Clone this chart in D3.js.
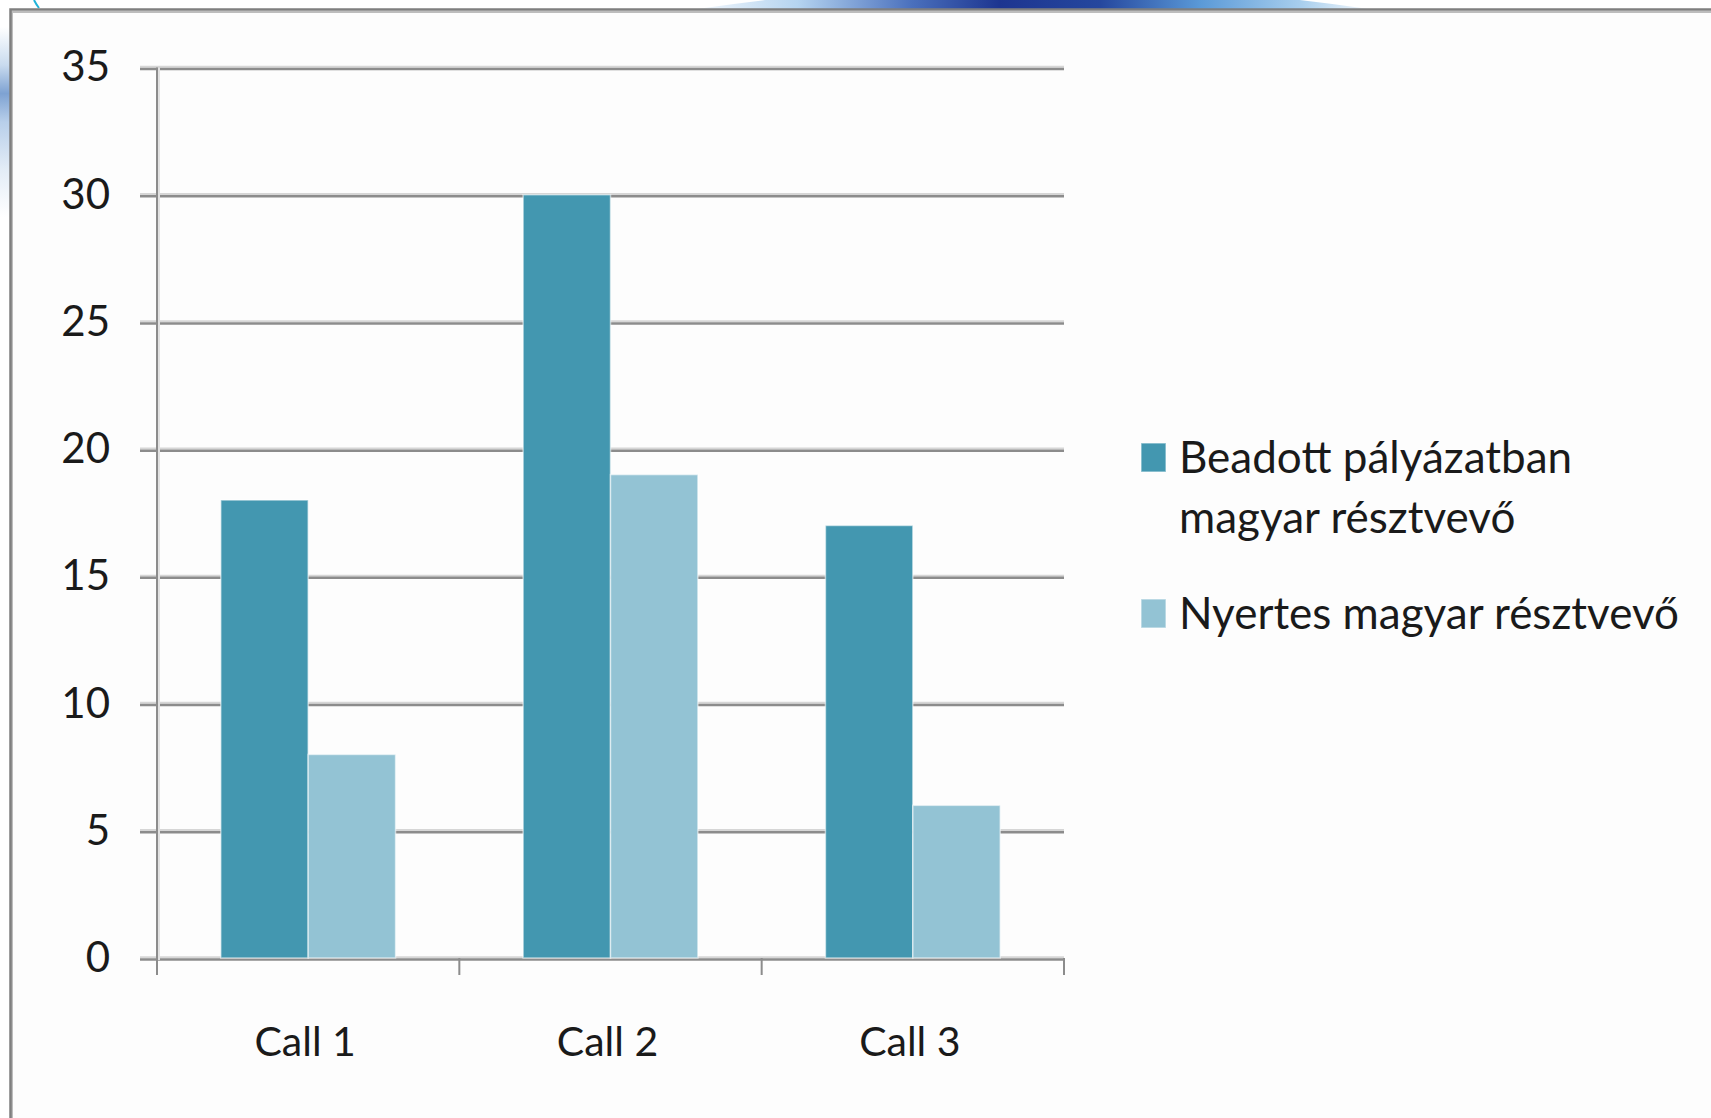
<!DOCTYPE html>
<html>
<head>
<meta charset="utf-8">
<script src="https://cdn.jsdelivr.net/npm/d3@7"></script>
<style>
  body { margin: 0; background: #fff; overflow: hidden; }
  svg { display: block; }
  text { font-family: Lato, "Open Sans", sans-serif; fill: #1a1a1a; }
</style>
</head>
<body>
<script>
// data
const categories = ["Call 1", "Call 2", "Call 3"];
const seriesNames = ["Beadott pályázatban magyar résztvevő", "Nyertes magyar résztvevő"];
const legendLines = [["Beadott pályázatban", "magyar résztvevő"], ["Nyertes magyar résztvevő"]];
const submitted = [18, 30, 17];
const winners = [8, 19, 6];
const yTicks = [0, 5, 10, 15, 20, 25, 30, 35];
const colors = ["#4397b0", "#93c3d4"];

const W = 1711, H = 1118;
const svg = d3.select("body").append("svg").attr("width", W).attr("height", H);
const defs = svg.append("defs");

// slide decoration bits behind the chart frame
let sw = defs.append("linearGradient").attr("id", "swoosh");
[[0, "#f2f7fc"], [0.15, "#b5d4f0"], [0.32, "#4a70bd"], [0.45, "#1d3590"], [0.6, "#25479e"], [0.75, "#5b9ad8"], [0.9, "#a9cfee"], [1, "#f4f8fc"]]
  .forEach(s => sw.append("stop").attr("offset", s[0]).attr("stop-color", s[1]));
svg.append("path")
  .attr("d", "M697,9 Q1030,-40 1369,9 Z")
  .attr("fill", "url(#swoosh)");

let lg = defs.append("linearGradient").attr("id", "leftglow").attr("x1", 0).attr("x2", 0).attr("y1", 0).attr("y2", 1);
[[0, "#ffffff"], [0.2, "#c9dbef"], [0.35, "#7ea2d2"], [0.5, "#b8cfea"], [0.75, "#e3ecf6"], [1, "#ffffff"]]
  .forEach(s => lg.append("stop").attr("offset", s[0]).attr("stop-color", s[1]));
svg.append("rect").attr("x", 0).attr("y", 27).attr("width", 10).attr("height", 190).attr("fill", "url(#leftglow)");
svg.append("path").attr("d", "M34,0 Q36,4 39,8").attr("fill", "none").attr("stroke", "#1fb3d9").attr("stroke-width", 2);

// chart frame
svg.append("rect").attr("x", 11).attr("y", 9).attr("width", W).attr("height", H)
  .attr("fill", "#fdfdfd").attr("stroke", "none");
svg.append("path").attr("d", `M12,${H} V12 H${W}`).attr("fill", "none").attr("stroke", "#bdbdbd").attr("stroke-width", 2);
svg.append("path").attr("d", `M10.5,${H} V9.5 H${W}`).attr("fill", "none").attr("stroke", "#7f7f7f").attr("stroke-width", 2.5);

// scales
const plotLeft = 157, plotRight = 1064, plotTop = 67.5, plotBottom = 958;
const x = d3.scaleBand().domain(categories).range([plotLeft, plotRight]).padding(0);
const x1 = d3.scaleBand().domain(seriesNames).range([0, x.bandwidth()]).paddingInner(0).paddingOuter(0.73);
const y = d3.scaleLinear().domain([0, 35]).range([plotBottom, plotTop]);

// gridlines + y labels
const yAxis = svg.append("g")
  .attr("transform", `translate(140,0)`)
  .call(d3.axisLeft(y).tickValues(yTicks).tickSize(-(plotRight - 140)).tickPadding(30).tickFormat(d3.format("d")));
yAxis.select(".domain").remove();
yAxis.selectAll(".tick line").attr("stroke", "#8c8c8c").attr("stroke-width", 2.5).attr("transform", "translate(0,1)");
yAxis.selectAll(".tick").insert("line", ":first-child")
  .attr("x1", 0).attr("x2", plotRight - 140).attr("y1", -1.2).attr("y2", -1.2)
  .attr("stroke", "#d6d6d6").attr("stroke-width", 2);
yAxis.selectAll(".tick text").attr("font-size", 42).attr("fill", "#1a1a1a").attr("font-family", "Lato, sans-serif");

// vertical axis line
svg.append("line").attr("x1", plotLeft + 2).attr("x2", plotLeft + 2).attr("y1", plotTop).attr("y2", plotBottom + 2)
  .attr("stroke", "#e2e2e2").attr("stroke-width", 2);
svg.append("line").attr("x1", plotLeft).attr("x2", plotLeft).attr("y1", plotTop).attr("y2", 975)
  .attr("stroke", "#8c8c8c").attr("stroke-width", 2);

// category boundary ticks
const bounds = categories.map(c => x(c)).concat([x.range()[1]]);
svg.selectAll(".btick").data(bounds.slice(1)).join("line")
  .attr("x1", d => d).attr("x2", d => d).attr("y1", plotBottom).attr("y2", 975)
  .attr("stroke", "#8c8c8c").attr("stroke-width", 2);

// bars
const rows = categories.map((c, i) => ({ cat: c, vals: [submitted[i], winners[i]] }));
const groups = svg.selectAll(".grp").data(rows).join("g")
  .attr("transform", d => `translate(${x(d.cat)},0)`);
groups.selectAll("rect").data(d => d.vals.map((v, j) => ({ name: seriesNames[j], v, j }))).join("rect")
  .attr("x", d => x1(d.name))
  .attr("width", x1.bandwidth())
  .attr("y", d => y(d.v))
  .attr("height", d => y(0) - y(d.v))
  .attr("fill", d => colors[d.j])
  .attr("stroke", "rgba(255,255,255,0.55)")
  .attr("stroke-width", 1.5);

// x labels
const xAxis = svg.append("g")
  .attr("transform", `translate(0,${plotBottom})`)
  .call(d3.axisBottom(x).tickSize(0).tickPadding(69));
xAxis.select(".domain").remove();
xAxis.selectAll(".tick text").attr("font-size", 41).attr("fill", "#1a1a1a").attr("font-family", "Lato, sans-serif")
  .attr("dx", -3);

// legend
const legendTop = [443, 599];
const leg = svg.selectAll(".leg").data(legendLines).join("g")
  .attr("transform", (d, i) => `translate(1141,${legendTop[i]})`);
leg.append("rect").attr("width", 25).attr("height", 29)
  .attr("fill", (d, i) => colors[i]).attr("stroke", "rgba(255,255,255,0.5)").attr("stroke-width", 1.5);
leg.each(function (lines) {
  const t = d3.select(this).append("text").attr("x", 38).attr("y", 30).attr("font-size", 44);
  lines.forEach((l, k) => t.append("tspan").attr("x", 38).attr("dy", k === 0 ? 0 : 60).text(l));
});
</script>
</body>
</html>
